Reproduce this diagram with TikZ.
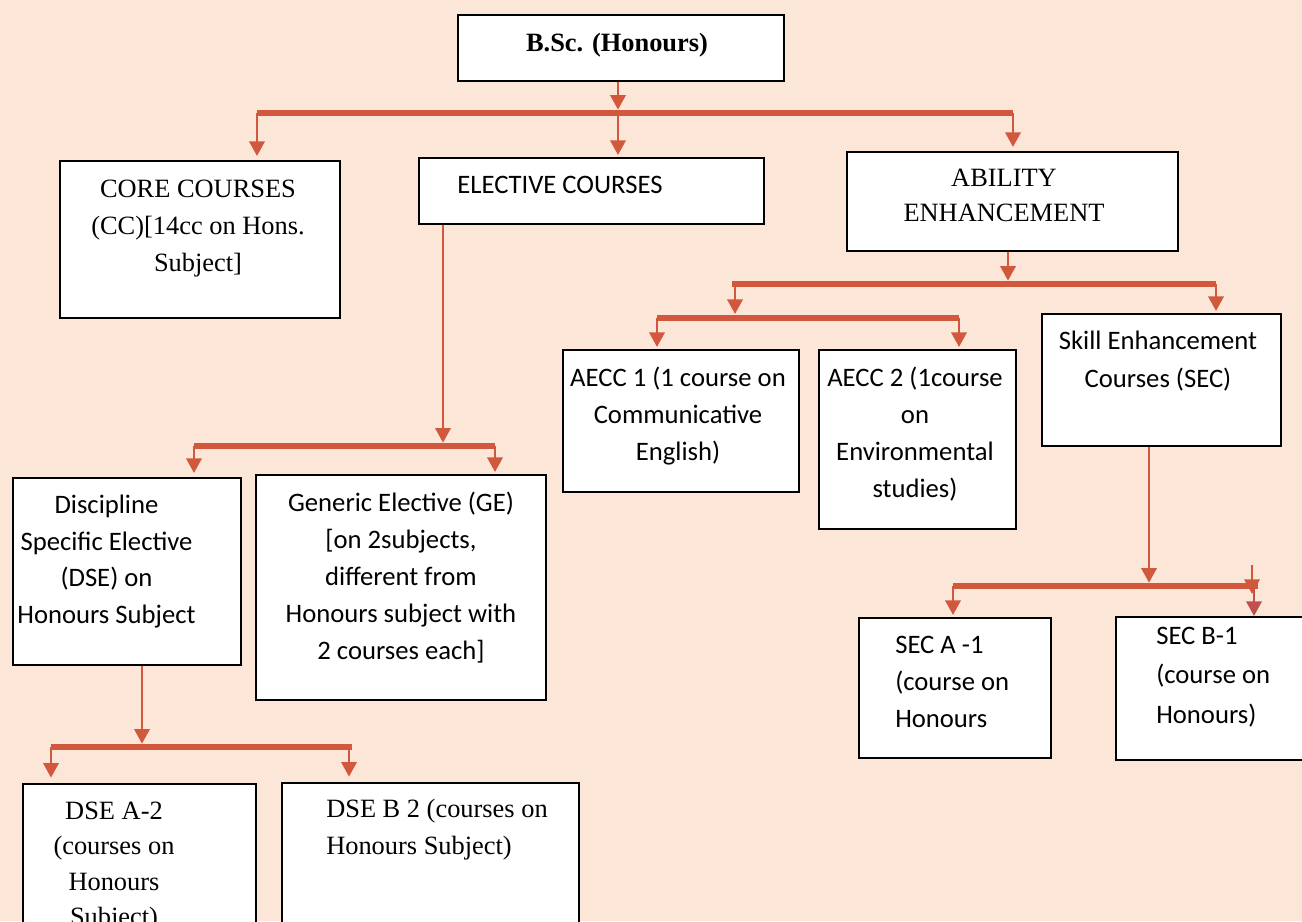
\documentclass[tikz,border=0pt]{standalone}
\usepackage{fontspec}
\setmainfont{Liberation Serif}
\newfontfamily\carl{Carlito}
\usetikzlibrary{arrows.meta}
\definecolor{bg}{HTML}{FBE6D8}
\definecolor{linec}{RGB}{209,88,60}
\definecolor{linectwo}{RGB}{192,80,77}
\begin{document}
\begin{tikzpicture}[x=0.75pt,y=-0.75pt,
 box/.style={draw=black,fill=white,line width=1.5pt,inner sep=0pt,anchor=north west},
 txt/.style={inner sep=0pt,align=center,anchor=base},
 ser/.style={font=\fontsize{19.8}{#1}\selectfont},
 san/.style={font=\carl\fontsize{20}{#1}\selectfont},
 arr/.style={draw=linec,line width=2pt,shorten >=1.5pt,-{Triangle[width=11.5pt,length=11pt]}},
 bar/.style={draw=linec,line width=4.5pt}]
\fill[bg] (0,0) rectangle (1302,921);
\useasboundingbox (0,0) rectangle (1302,921);
\clip (0,0) rectangle (1302,921);

% boxes
\node[box,minimum width={(783-457)*0.75pt},minimum height={(80-14)*0.75pt}] (bsc) at (457,14) {};
\node[box,minimum width={(339-59)*0.75pt},minimum height={(317-160)*0.75pt}] (core) at (59,160) {};
\node[box,minimum width={(763-418)*0.75pt},minimum height={(223-157)*0.75pt}] (elec) at (418,157) {};
\node[box,minimum width={(1177-846)*0.75pt},minimum height={(250-151)*0.75pt}] (abil) at (846,151) {};
\node[box,minimum width={(798-562)*0.75pt},minimum height={(491-349)*0.75pt}] (aecca) at (562,349) {};
\node[box,minimum width={(1015-818)*0.75pt},minimum height={(528-349)*0.75pt}] (aeccb) at (818,349) {};
\node[box,minimum width={(1280-1041)*0.75pt},minimum height={(445-313)*0.75pt}] (sec) at (1041,313) {};
\node[box,minimum width={(240-12)*0.75pt},minimum height={(664-477)*0.75pt}] (disc) at (12,477) {};
\node[box,minimum width={(545-255)*0.75pt},minimum height={(699-474)*0.75pt}] (ge) at (255,474) {};
\node[box,minimum width={(1050-858)*0.75pt},minimum height={(757-617)*0.75pt}] (seca) at (858,617) {};
\node[box,minimum width={(1320-1115)*0.75pt},minimum height={(759-616)*0.75pt}] (secb) at (1115,616) {};
\node[box,minimum width={(255-22)*0.75pt},minimum height={(945-783)*0.75pt}] (dsea) at (22,783) {};
\node[box,minimum width={(578-281)*0.75pt},minimum height={(945-782)*0.75pt}] (dseb) at (281,782) {};

% texts (anchor base = baseline of the last line)
\node[txt,font=\bfseries\fontsize{19.8}{24}\selectfont] (bsct) at (617,51) {B.Sc. (Honours)};
\node[txt,ser=27.75pt] (coret) at (198,271) {CORE COURSES\\(CC)[14cc on Hons.\\Subject]};
\node[txt,san=28pt] (elect) at (560,193) {ELECTIVE COURSES};
\node[txt,ser=26.25pt] (abilt) at (1004,221) {ABILITY\\ENHANCEMENT};
\node[txt,san=27.75pt] (aeccat) at (678,460) {AECC 1 (1 course on\\Communicative\\English)};
\node[txt,san=27.75pt] (aeccbt) at (915,497) {AECC 2 (1course\\on\\Environmental\\studies)};
\node[txt,san=28.5pt] (sect) at (1158,387) {Skill Enhancement\\Courses (SEC)};
\node[txt,san=27.4pt] (disct) at (106.5,623.5) {Discipline\\Specific Elective\\(DSE) on\\Honours Subject};
\node[txt,san=27.75pt] (get) at (401,659) {Generic Elective (GE)\\{[}on 2subjects,\\different from\\Honours subject with\\2 courses each{]}};
\node[txt,anchor=base west,align=left,san=27.75pt] (secat) at (895,727) {SEC A -1\\(course on\\Honours};
\node[txt,anchor=base west,align=left,san=29.6pt] (secbt) at (1156,723) {SEC B-1\\(course on\\Honours)};
\node[txt,ser=26.6pt] (dseat) at (114,925.5) {DSE A-2\\(courses on\\Honours\\Subject)};
\node[txt,anchor=base west,align=left,ser=27.75pt] (dsebt) at (326,854) {DSE B 2 (courses on\\Honours Subject)};

% junction coordinates
\coordinate (j1) at (618,113); \coordinate (j1l) at (257,113); \coordinate (j1r) at (1013,113);
\coordinate (j2) at (1008,284); \coordinate (j2l) at (732,284); \coordinate (j2r) at (1216,284);
\coordinate (j3) at (735,318); \coordinate (j3l) at (657,318); \coordinate (j3r) at (959,318);
\coordinate (j4) at (443,446); \coordinate (j4l) at (194,446); \coordinate (j4r) at (495,446);
\coordinate (j5) at (1149,586); \coordinate (j5l) at (953,586); \coordinate (j5r) at (1258,586);
\coordinate (j5b) at (1254,586);
\coordinate (j6) at (142,747); \coordinate (j6l) at (51,747); \coordinate (j6r) at (352,747);
\coordinate (j6b) at (349,747);
\coordinate (s1) at (1252,565); \coordinate (s2) at (1252,594);

% level 1
\draw[arr,shorten >=2.5pt] (bsc.south -| j1) -- (j1);
\draw[bar] (j1l) -- (j1r);
\draw[arr,shorten >=3pt] (j1l) -- (core.north -| j1l);
\draw[arr] (j1) -- (elec.north -| j1);
\draw[arr,shorten >=3pt] (j1r) -- (abil.north -| j1r);

% ability branch
\draw[arr,shorten >=2.5pt] (abil.south -| j2) -- (j2);
\draw[bar] (j2l) -- (j2r);
\draw[arr,shorten >=3pt] (j3 |- j2) -- (j3);
\draw[arr] (j2r) -- (sec.north -| j2r);
\draw[bar] (j3l) -- (j3r);
\draw[arr] (j3l) -- (aecca.north -| j3l);
\draw[arr] (j3r) -- (aeccb.north -| j3r);

% elective branch
\draw[arr,shorten >=2.5pt] (elec.south -| j4) -- (j4);
\draw[bar] (j4l) -- (j4r);
\draw[arr,shorten >=3pt] (j4l) -- (disc.north -| j4l);
\draw[arr] (j4r) -- (ge.north -| j4r);

% SEC branch
\draw[arr,shorten >=2.5pt] (sec.south -| j5) -- (j5);
\draw[bar] (j5l) -- (j5r);
\draw[arr] (j5l) -- (seca.north -| j5l);
\draw[arr,draw=linectwo,shorten >=0pt] (j5b) -- (secb.north -| j5b);
\draw[arr,shorten >=0pt] (s1) -- (s2);

% DSE branch
\draw[arr,shorten >=2.5pt] (disc.south -| j6) -- (j6);
\draw[bar] (j6l) -- (j6r);
\draw[arr,shorten >=4pt] (j6l) -- (dsea.north -| j6l);
\draw[arr,shorten >=4pt] (j6b) -- (dseb.north -| j6b);
\end{tikzpicture}
\end{document}
